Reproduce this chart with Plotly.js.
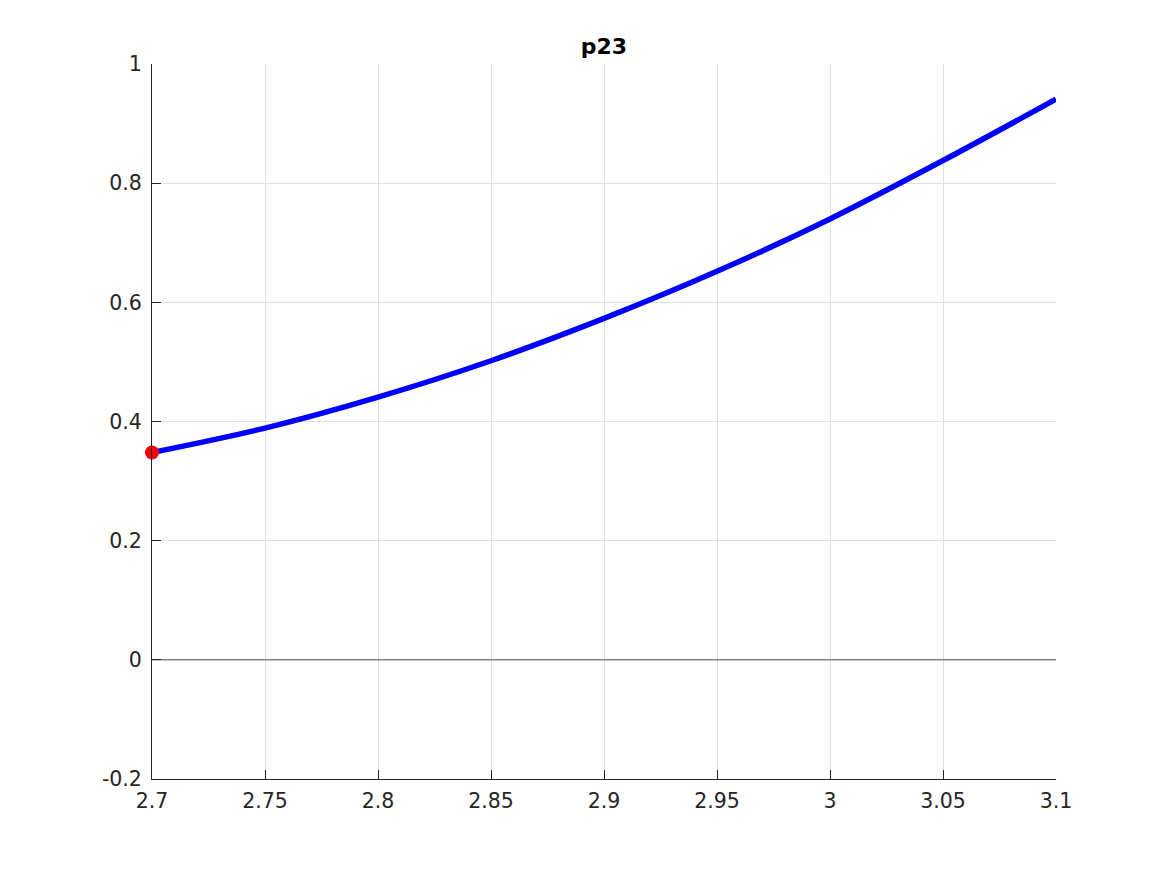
<!DOCTYPE html>
<html>
<head>
<meta charset="utf-8">
<script src="https://cdn.plot.ly/plotly-3.0.1.min.js"></script>
<style>html,body{margin:0;padding:0;background:#fff;}#chart{width:1167px;height:875px;}</style>
</head>
<body>
<div id="chart"></div>
<script>
const xValues = [2.7, 2.75, 2.8, 2.85, 2.9, 2.95, 3.0, 3.05, 3.1];
const p23Values = [0.348, 0.389, 0.441, 0.502, 0.573, 0.652, 0.740, 0.838, 0.941];
const zeroX = [2.7, 3.1];
const zeroY = [0, 0];
const startX = [2.7];
const startY = [0.348];
const xTickVals = [2.7, 2.75, 2.8, 2.85, 2.9, 2.95, 3.0, 3.05, 3.1];
const xTickText = ['2.7', '2.75', '2.8', '2.85', '2.9', '2.95', '3', '3.05', '3.1'];
const yTickVals = [-0.2, 0, 0.2, 0.4, 0.6, 0.8, 1];
const yTickText = ['-0.2', '0', '0.2', '0.4', '0.6', '0.8', '1'];

const traces = [
  {x: zeroX, y: zeroY, mode: 'lines', line: {color: '#4d4d4d', width: 1}, hoverinfo: 'skip', showlegend: false},
  {x: xValues, y: p23Values, mode: 'lines', line: {color: '#0000ff', width: 5.5, shape: 'spline', smoothing: 1}, showlegend: false},
  {x: startX, y: startY, mode: 'markers', marker: {color: '#ff0000', size: 14}, cliponaxis: false, showlegend: false}
];

const fontFam = 'DejaVu Sans, sans-serif';
const layout = {
  width: 1167, height: 875,
  margin: {l: 152, r: 111, t: 64, b: 96},
  paper_bgcolor: '#ffffff', plot_bgcolor: '#ffffff',
  title: {text: '<b>p23</b>', x: (152 + 1056) / 2 / 1167, xanchor: 'center', y: 1 - 46 / 875, yanchor: 'middle', font: {family: fontFam, size: 22, color: '#000000'}},
  xaxis: {
    range: [2.7, 3.1], tickmode: 'array', tickvals: xTickVals, ticktext: xTickText,
    showgrid: true, gridcolor: '#e0e0e0', gridwidth: 1, zeroline: false,
    showline: true, linecolor: '#262626', linewidth: 1,
    ticks: 'inside', ticklen: 9, tickcolor: '#262626', tickwidth: 1,
    tickfont: {family: fontFam, size: 20.5, color: '#262626'},
    ticklabelstandoff: 3,
    mirror: false, fixedrange: true
  },
  yaxis: {
    range: [-0.2, 1], tickmode: 'array', tickvals: yTickVals, ticktext: yTickText,
    showgrid: true, gridcolor: '#e0e0e0', gridwidth: 1, zeroline: false,
    showline: true, linecolor: '#262626', linewidth: 1,
    ticks: 'inside', ticklen: 9, tickcolor: '#262626', tickwidth: 1,
    tickfont: {family: fontFam, size: 20.5, color: '#262626'},
    ticklabelstandoff: 5,
    mirror: false, fixedrange: true
  }
};

Plotly.newPlot('chart', traces, layout, {displayModeBar: false, staticPlot: true});
</script>
</body>
</html>
